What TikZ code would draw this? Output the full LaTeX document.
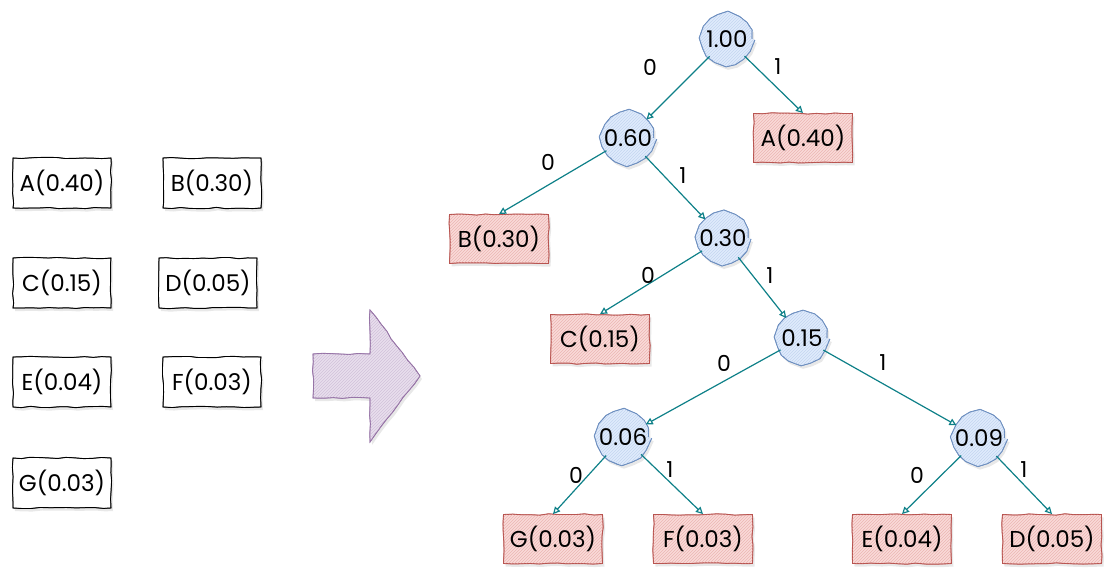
\documentclass[tikz,border=0pt]{standalone}
\usepackage{fontspec}
\setmainfont{Poppins}
\usetikzlibrary{arrows.meta,decorations.pathmorphing,patterns,shadows}

\definecolor{inkteal}{HTML}{0E8088}
\definecolor{leafline}{HTML}{B85450}
\definecolor{leaffill}{HTML}{F8CECC}
\definecolor{sumline}{HTML}{6C8EBF}
\definecolor{sumfill}{HTML}{DAE8FC}
\definecolor{bigline}{HTML}{9673A6}
\definecolor{bigfill}{HTML}{E1D5E7}

\tikzset{
  sketch/.style={decorate, decoration={random steps, segment length=9pt, amplitude=0.7pt}},
  soft shadow/.style={drop shadow={opacity=0.18, shadow xshift=2pt, shadow yshift=-3pt}},
  label font/.style={font=\fontsize{23}{23}\selectfont},
  listbox/.style={label font, rectangle, minimum width=98pt, minimum height=50pt,
    inner sep=0pt, fill=white, draw=black, line width=0.9pt, sketch, soft shadow,
    postaction={draw=black, line width=0.6pt, sketch}},
  leaf/.style={label font, rectangle, minimum width=99pt, minimum height=49pt,
    inner sep=0pt, fill=leaffill!75, draw=leafline, line width=0.9pt, sketch, soft shadow,
    postaction={pattern=north east lines, pattern color=leaffill!80!leafline},
    postaction={draw=leafline, line width=0.6pt, sketch}},
  sum/.style={label font, circle, minimum size=50pt, inner sep=0pt,
    fill=sumfill!85, draw=sumline, line width=0.9pt, sketch, soft shadow,
    postaction={pattern=north east lines, pattern color=sumfill!80!sumline},
    postaction={draw=sumline, line width=0.6pt, sketch}},
  branch/.style={draw=inkteal, line width=1.2pt,
    -{Triangle[open, length=7pt, width=7pt]}, shorten <=-1pt},
  bit/.style={font=\fontsize{22}{22}\selectfont},
}

\begin{document}
\begin{tikzpicture}[x=1pt, y=-1pt]
  \useasboundingbox (0,0) rectangle (1117,580);

  % symbol list with probabilities
  \node[listbox] (lA) at (62,183) {A(0.40)};
  \node[listbox] (lB) at (212,183) {B(0.30)};
  \node[listbox] (lC) at (62,283) {C(0.15)};
  \node[listbox] (lD) at (208,283) {D(0.05)};
  \node[listbox] (lE) at (62,382) {E(0.04)};
  \node[listbox] (lF) at (212,382) {F(0.03)};
  \node[listbox] (lG) at (62,483) {G(0.03)};

  % block arrow
  \path[fill=bigfill!75, draw=bigline, line width=0.9pt, sketch, soft shadow,
        postaction={pattern=north east lines, pattern color=bigfill!80!bigline},
        postaction={draw=bigline, line width=0.6pt, sketch}]
    (313,354) -- (370,354) -- (370,310) -- (420,376) -- (370,442)
    -- (370,398) -- (313,398) -- cycle;

  % coding tree: inner sums
  \node[sum] (s100) at (727,39)  {1.00};
  \node[sum] (s060) at (628,138) {0.60};
  \node[sum] (s030) at (723,238) {0.30};
  \node[sum] (s015) at (802,338) {0.15};
  \node[sum] (s006) at (623,437) {0.06};
  \node[sum] (s009) at (979,438) {0.09};

  % coding tree: leaves
  \node[leaf] (tA) at (803,138) {A(0.40)};
  \node[leaf] (tB) at (499,239) {B(0.30)};
  \node[leaf] (tC) at (600,339) {C(0.15)};
  \node[leaf] (tG) at (553,539) {G(0.03)};
  \node[leaf] (tF) at (703,539) {F(0.03)};
  \node[leaf] (tE) at (902,539) {E(0.04)};
  \node[leaf] (tD) at (1052,539) {D(0.05)};

  % branches
  \draw[branch] (s100) -- (s060);
  \draw[branch] (s100) -- (tA.north);
  \draw[branch] (s060) -- (tB.north);
  \draw[branch] (s060) -- (s030);
  \draw[branch] (s030) -- (tC.north);
  \draw[branch] (s030) -- (s015);
  \draw[branch] (s015) -- (s006);
  \draw[branch] (s015) -- (s009);
  \draw[branch] (s006) -- (tG.north);
  \draw[branch] (s006) -- (tF.north);
  \draw[branch] (s009) -- (tE.north);
  \draw[branch] (s009) -- (tD.north);

  % branch bits
  \node[bit] (b1) at (650,67)  {0};
  \node[bit] (b2) at (778,67)  {1};
  \node[bit] (b3) at (548,162) {0};
  \node[bit] (b4) at (683,176) {1};
  \node[bit] (b5) at (648,275) {0};
  \node[bit] (b6) at (770,276) {1};
  \node[bit] (b7) at (724,363) {0};
  \node[bit] (b8) at (883,363) {1};
  \node[bit] (b9) at (576,475) {0};
  \node[bit] (b10) at (670,470) {1};
  \node[bit] (b11) at (917,475) {0};
  \node[bit] (b12) at (1024,470) {1};
\end{tikzpicture}
\end{document}
